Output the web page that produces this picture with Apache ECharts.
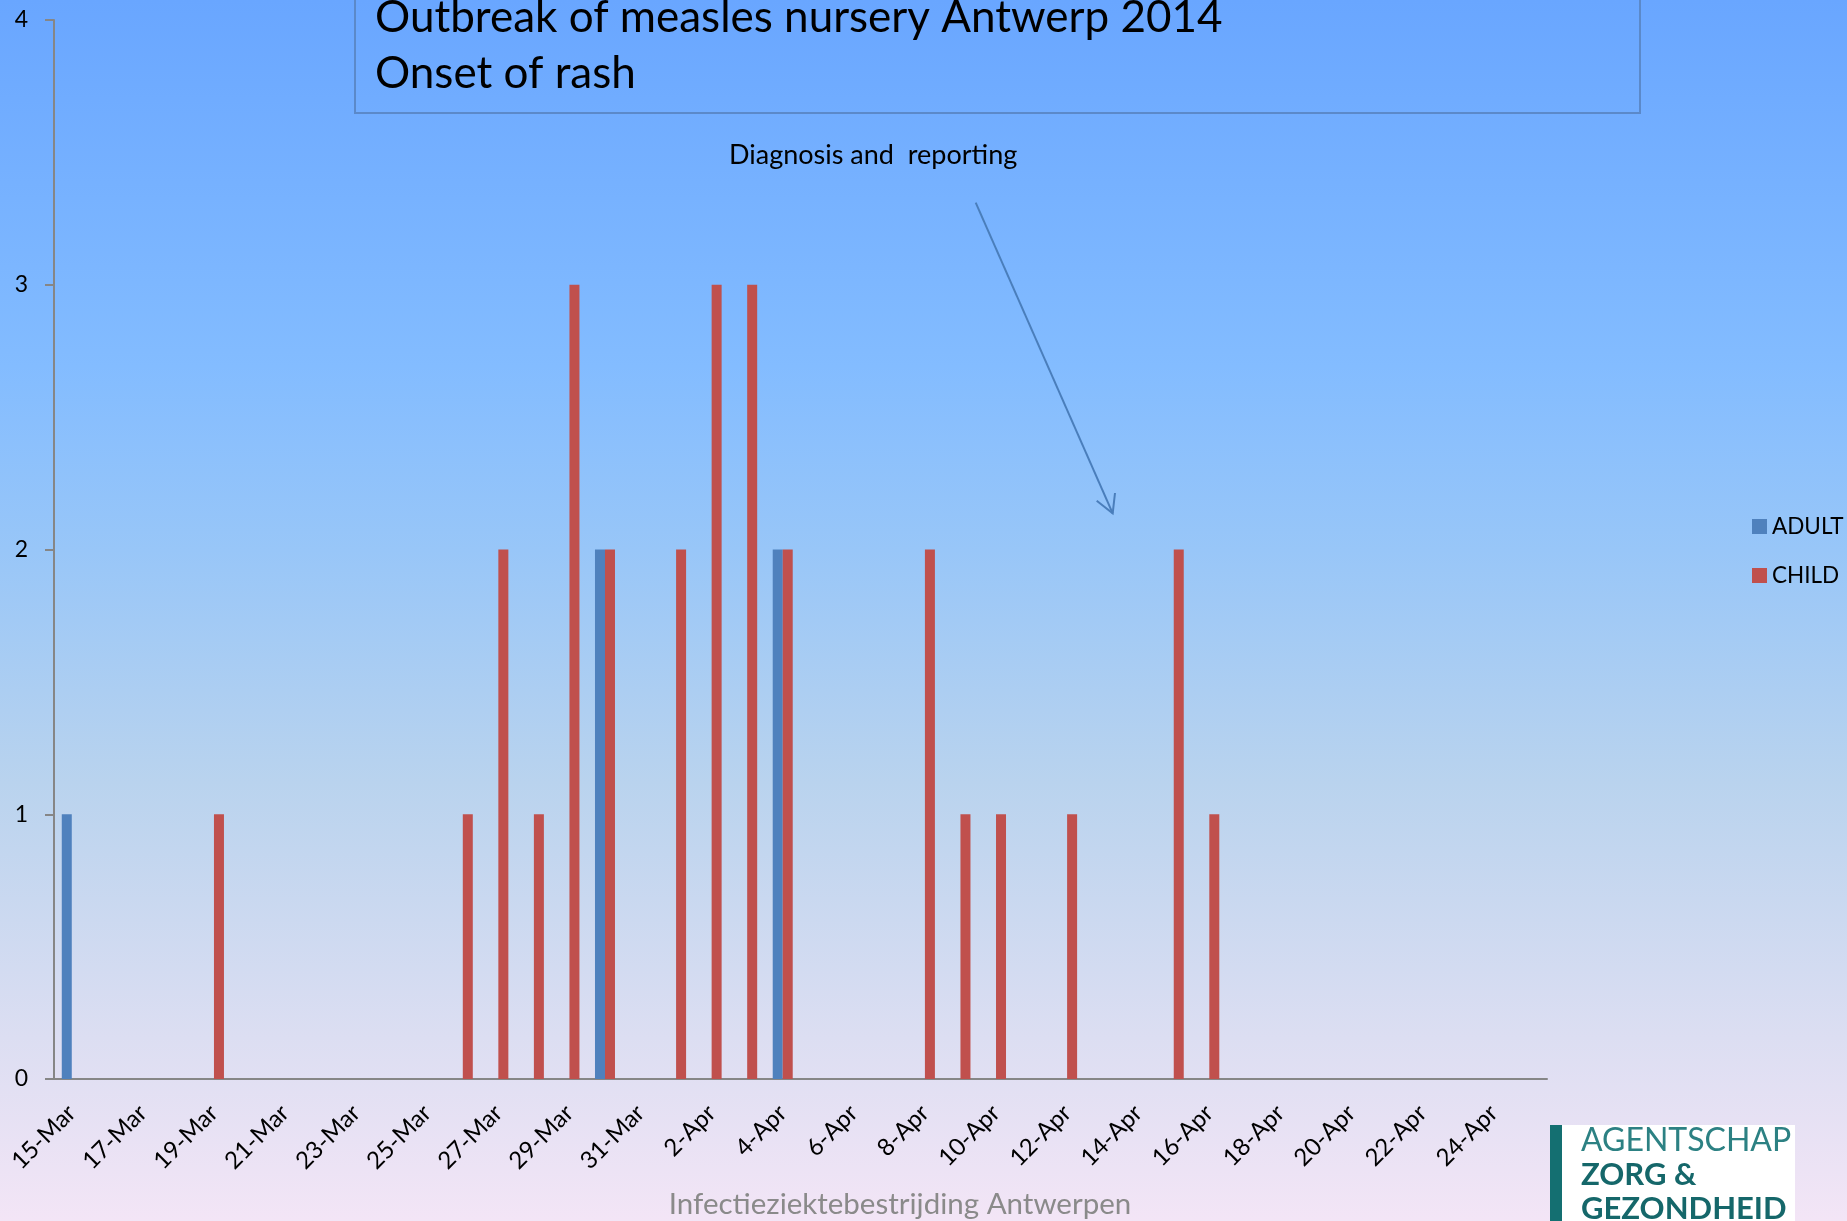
<!DOCTYPE html>
<html>
<head>
<meta charset="utf-8">
<script src="https://cdn.jsdelivr.net/npm/echarts@6/dist/echarts.min.js"></script>
<style>
html,body{margin:0;padding:0;width:1847px;height:1221px;overflow:hidden;}
#chart{width:1847px;height:1221px;}
</style>
</head>
<body>
<div id="chart"></div>
<script>
const dates = ['15-Mar','16-Mar','17-Mar','18-Mar','19-Mar','20-Mar','21-Mar','22-Mar','23-Mar','24-Mar','25-Mar','26-Mar','27-Mar','28-Mar','29-Mar','30-Mar','31-Mar',
  '1-Apr','2-Apr','3-Apr','4-Apr','5-Apr','6-Apr','7-Apr','8-Apr','9-Apr','10-Apr','11-Apr','12-Apr','13-Apr','14-Apr','15-Apr','16-Apr','17-Apr','18-Apr','19-Apr','20-Apr','21-Apr','22-Apr','23-Apr','24-Apr','25-Apr'];
const adult = [1,0,0,0,0,0,0,0,0,0,0,0,0,0,0,2,0, 0,0,0,2,0,0,0,0,0,0,0,0,0,0,0,0,0,0,0,0,0,0,0,0,0];
const child = [0,0,0,0,1,0,0,0,0,0,0,1,2,1,3,2,0, 2,3,3,2,0,0,0,2,1,1,0,1,0,0,2,1,0,0,0,0,0,0,0,0,0];
const yTicks = [0,1,2,3,4];
const seriesNames = ['ADULT','CHILD'];
const titleLines = ['Outbreak of measles nursery Antwerp 2014','Onset of rash'];
const annotationText = 'Diagnosis and  reporting';
const footerText = 'Infectieziektebestrijding Antwerpen';
const logoLines = ['AGENTSCHAP','ZORG &','GEZONDHEID'];

const FONT = 'Lato, "Open Sans", sans-serif';
const chart = echarts.init(document.getElementById('chart'));
chart.setOption({
  animation: false,
  backgroundColor: {
    type: 'linear', x: 0, y: 0, x2: 0, y2: 1,
    colorStops: [
      {offset: 0, color: '#69a6ff'},
      {offset: 0.3, color: '#83bcff'},
      {offset: 0.45, color: '#98c6f8'},
      {offset: 0.64, color: '#b9d3ee'},
      {offset: 0.85, color: '#dcdef2'},
      {offset: 1, color: '#f3e5f6'}
    ]
  },
  grid: {left: 54, right: 300, top: 20, bottom: 142},
  legend: {
    orient: 'vertical', left: 1747, top: 510,
    itemWidth: 15, itemHeight: 15, itemGap: 26, icon: 'rect',
    data: seriesNames,
    textStyle: {fontFamily: FONT, fontSize: 22.5, lineHeight: 23, color: '#000'}
  },
  xAxis: {
    type: 'category', data: dates, boundaryGap: true,
    axisLine: {lineStyle: {color: '#868686', width: 2}},
    axisTick: {interval: 1, length: 8, lineStyle: {color: '#868686', width: 2}},
    axisLabel: {interval: 1, rotate: 45, margin: 30, fontFamily: FONT, fontSize: 24, color: '#000'}
  },
  yAxis: {
    type: 'value', min: yTicks[0], max: yTicks[yTicks.length-1], interval: 1,
    axisLine: {show: true, lineStyle: {color: '#868686', width: 2}},
    axisTick: {show: true, length: 9, lineStyle: {color: '#868686', width: 2}},
    splitLine: {show: false},
    axisLabel: {margin: 26, fontFamily: FONT, fontSize: 23, color: '#000'}
  },
  series: [
    {name: seriesNames[0], type: 'bar', data: adult, barWidth: 10, barGap: '0%', itemStyle: {color: '#4f81bd'}},
    {name: seriesNames[1], type: 'bar', data: child, barWidth: 10, barGap: '0%', itemStyle: {color: '#c0504d'}}
  ],
  graphic: [
    {type: 'rect', shape: {x: 355, y: -10, width: 1285, height: 123}, style: {fill: 'none', stroke: '#5b89c9', lineWidth: 2}},
    {type: 'text', x: 375, y: 18, style: {text: titleLines[0], font: '44px ' + FONT, fill: '#000', textVerticalAlign: 'middle'}},
    {type: 'text', x: 375, y: 74, style: {text: titleLines[1], font: '44px ' + FONT, fill: '#000', textVerticalAlign: 'middle'}},
    {type: 'text', x: 729, y: 155, style: {text: annotationText, font: '27px ' + FONT, fill: '#000', textVerticalAlign: 'middle'}},
    {type: 'line', shape: {x1: 975.7, y1: 202.7, x2: 1112.7, y2: 513.3}, style: {stroke: '#4a7ebb', lineWidth: 2}},
    {type: 'polyline', shape: {points: [[1096.7, 500.7], [1112.7, 513.3], [1115, 493]]}, style: {stroke: '#4a7ebb', lineWidth: 2, fill: 'none'}},
    {type: 'text', x: 900, y: 1204, style: {text: footerText, font: '29.5px ' + FONT, fill: '#8a8a8a', textAlign: 'center', textVerticalAlign: 'middle'}},
    {type: 'rect', shape: {x: 1550, y: 1125, width: 245, height: 100}, style: {fill: '#ffffff'}},
    {type: 'rect', shape: {x: 1550, y: 1125, width: 12, height: 100}, style: {fill: '#146f71'}},
    {type: 'text', x: 1581, y: 1141, style: {text: logoLines[0], font: '32px ' + FONT, fill: '#2c8183', textVerticalAlign: 'middle'}},
    {type: 'text', x: 1581, y: 1175, style: {text: logoLines[1], font: 'bold 31px ' + FONT, fill: '#15676a', textVerticalAlign: 'middle'}},
    {type: 'text', x: 1581, y: 1209, style: {text: logoLines[2], font: 'bold 31px ' + FONT, fill: '#15676a', textVerticalAlign: 'middle'}}
  ]
});
</script>
</body>
</html>
